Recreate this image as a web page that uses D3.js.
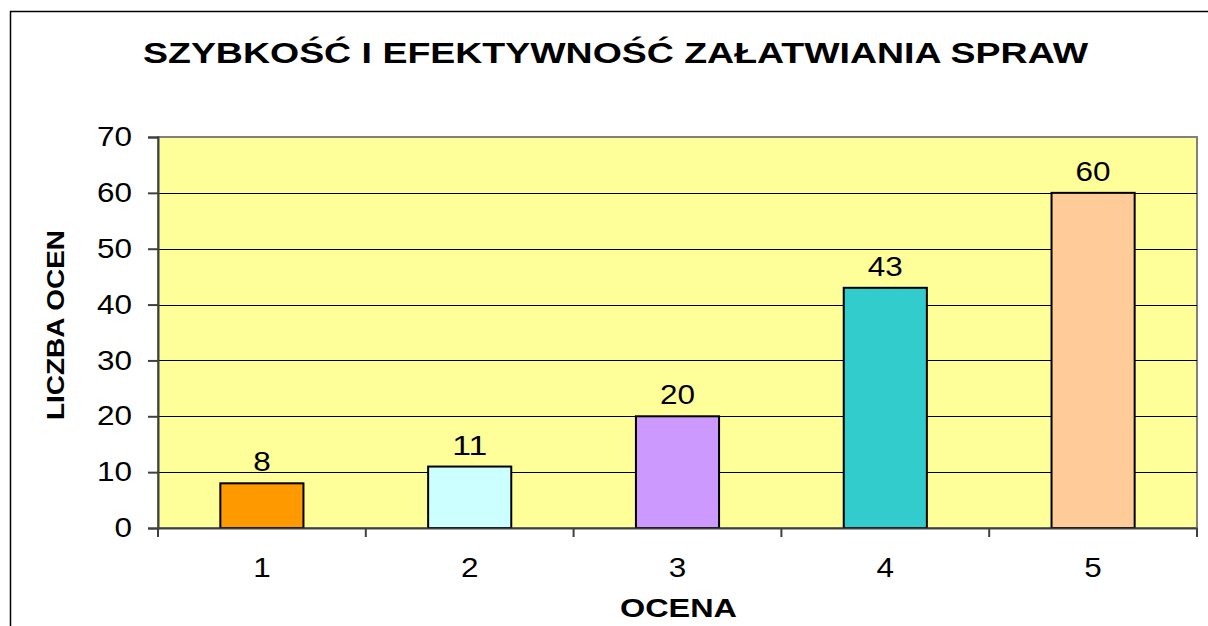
<!DOCTYPE html>
<html>
<head>
<meta charset="utf-8">
<script src="https://cdn.jsdelivr.net/npm/d3@7"></script>
<style>
  body { margin: 0; background: #fff; }
  svg { display: block; font-family: "Liberation Sans", Arial, sans-serif; }
</style>
</head>
<body>
<svg class="chart" width="1208" height="626"></svg>
<script>
// data
var categories = ["1", "2", "3", "4", "5"];
var counts = [8, 11, 20, 43, 60];
var barColors = ["#FF9900", "#CCFFFF", "#CC99FF", "#33CCCC", "#FFCC99"];
var yTicks = [0, 10, 20, 30, 40, 50, 60, 70];

var svg = d3.select("svg.chart");
var margin = {top: 137, right: 11, bottom: 98, left: 158};
var width = 1208 - margin.left - margin.right,
    height = 626 - margin.top - margin.bottom;
var numSize = 27, digitW = 17.5;

// outer frame
svg.append("rect")
  .attr("x", 10.5).attr("y", 11.5)
  .attr("width", 1210).attr("height", 640)
  .attr("fill", "none").attr("stroke", "#000").attr("stroke-width", 1.5);

svg.append("text")
  .attr("x", 615.5).attr("y", 63)
  .attr("text-anchor", "middle")
  .attr("font-size", 29).attr("font-weight", "bold")
  .attr("textLength", 945).attr("lengthAdjust", "spacingAndGlyphs")
  .text("SZYBKOŚĆ I EFEKTYWNOŚĆ ZAŁATWIANIA SPRAW");

var g = svg.append("g").attr("transform", "translate(" + margin.left + "," + margin.top + ")");

var x = d3.scaleBand().domain(categories).range([0, width]).padding(0);
var y = d3.scaleLinear().domain([0, 70]).range([height, 0]);

// plot background
g.append("rect")
  .attr("width", width).attr("height", height)
  .attr("fill", "#FFFF99")
  .attr("stroke", "#808080").attr("stroke-width", 2);

// gridlines
g.selectAll("line.grid").data(yTicks.slice(1, -1))
  .enter().append("line")
  .attr("class", "grid")
  .attr("x1", 0).attr("x2", width)
  .attr("y1", function(d) { return Math.round(y(d)) + 0.5; })
  .attr("y2", function(d) { return Math.round(y(d)) + 0.5; })
  .attr("stroke", "#000").attr("stroke-width", 1);

var barW = x.bandwidth() * 0.4;
g.selectAll("rect.bar").data(counts)
  .enter().append("rect")
  .attr("class", "bar")
  .attr("x", function(d, i) { return x(categories[i]) + (x.bandwidth() - barW) / 2; })
  .attr("y", function(d) { return y(d); })
  .attr("width", barW)
  .attr("height", function(d) { return height - y(d); })
  .attr("fill", function(d, i) { return barColors[i]; })
  .attr("stroke", "#000").attr("stroke-width", 2);

g.selectAll("text.val").data(counts)
  .enter().append("text")
  .attr("class", "val")
  .attr("x", function(d, i) { return x(categories[i]) + x.bandwidth() / 2; })
  .attr("y", function(d) { return y(d) - 12; })
  .attr("text-anchor", "middle")
  .attr("font-size", numSize)
  .attr("textLength", function(d) { return String(d).length * digitW; })
  .attr("lengthAdjust", "spacingAndGlyphs")
  .text(function(d) { return d; });

// axes
var yAxis = g.append("g")
  .call(d3.axisLeft(y).tickValues(yTicks).tickSize(10).tickPadding(16));
var xAxis = g.append("g")
  .attr("transform", "translate(0," + height + ")")
  .call(d3.axisBottom(x).tickSize(0));

yAxis.selectAll("text")
  .attr("font-size", numSize).attr("fill", "#000")
  .attr("textLength", function(d) { return String(d).length * digitW; })
  .attr("lengthAdjust", "spacingAndGlyphs");
xAxis.selectAll("text")
  .attr("font-size", numSize).attr("fill", "#000")
  .attr("y", 49).attr("dy", 0)
  .attr("textLength", digitW).attr("lengthAdjust", "spacingAndGlyphs");
yAxis.select(".domain").attr("stroke", "#404040").attr("stroke-width", 2);
yAxis.selectAll(".tick line").attr("stroke", "#404040").attr("stroke-width", 2);
xAxis.select(".domain").attr("stroke", "#404040").attr("stroke-width", 2);

// category boundary ticks
g.selectAll("line.xt").data(categories.concat(["end"]))
  .enter().append("line")
  .attr("class", "xt")
  .attr("x1", function(d, i) { return i * x.step(); })
  .attr("x2", function(d, i) { return i * x.step(); })
  .attr("y1", height).attr("y2", height + 9)
  .attr("stroke", "#404040").attr("stroke-width", 2);

svg.append("text")
  .attr("x", 678.5).attr("y", 617)
  .attr("text-anchor", "middle")
  .attr("font-size", 26).attr("font-weight", "bold")
  .attr("textLength", 117).attr("lengthAdjust", "spacingAndGlyphs")
  .text("OCENA");

svg.append("text")
  .attr("transform", "translate(64,325) rotate(-90)")
  .attr("text-anchor", "middle")
  .attr("font-size", 23).attr("font-weight", "bold")
  .attr("textLength", 190).attr("lengthAdjust", "spacingAndGlyphs")
  .text("LICZBA OCEN");
</script>
</body>
</html>
